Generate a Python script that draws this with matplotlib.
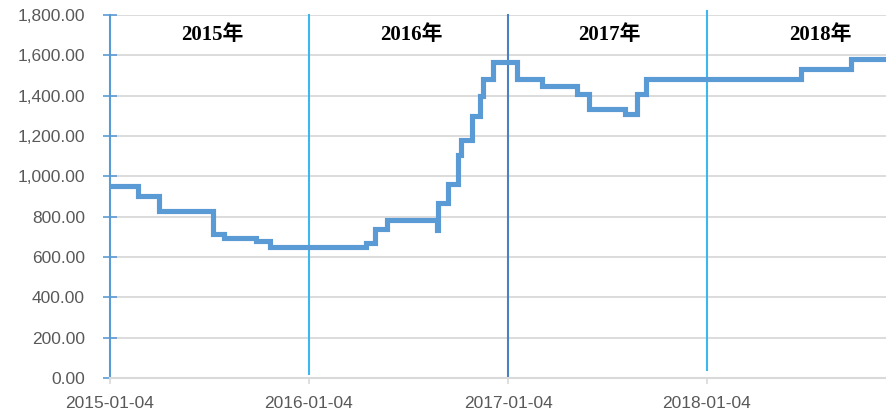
import pandas as pd
import matplotlib.pyplot as plt
import matplotlib.dates as mdates
from matplotlib.ticker import FuncFormatter, MultipleLocator

# step series (date of change, new level)
change_dates = ['2015-01-04', '2015-02-24', '2015-04-04', '2015-07-12', '2015-08-01',
                '2015-09-29', '2015-10-24', '2016-04-19', '2016-05-04', '2016-05-26',
                '2016-08-26', '2016-08-29', '2016-09-15', '2016-10-05', '2016-10-10',
                '2016-10-29', '2016-11-13', '2016-11-19', '2016-12-08', '2017-01-21',
                '2017-03-08', '2017-05-11', '2017-06-01', '2017-08-06', '2017-08-28',
                '2017-09-15', '2018-06-26', '2018-09-26', '2018-12-02']
levels = [950, 900, 830, 715, 695,
          680, 650, 670, 740, 785,
          735, 870, 960, 1105, 1180,
          1300, 1400, 1485, 1565, 1485,
          1450, 1410, 1335, 1310, 1410,
          1485, 1530, 1580, 1580]

tick_dates = ['2015-01-04', '2016-01-04', '2017-01-04', '2018-01-04']
year_labels = ['2015年', '2016年', '2017年', '2018年']
year_label_dates = ['2015-07-10', '2016-07-10', '2017-07-10', '2018-08-01']
divider_dates = ['2016-01-04', '2017-01-04', '2018-01-04']
divider_colors = ['#3DB8EE', '#4A80C4', '#3DB8EE']
divider_spans = [(20, 1800), (5, 1800), (40, 1820)]

df = pd.DataFrame({'date': pd.to_datetime(change_dates), 'value': levels})

fig = plt.figure(figsize=(8.87, 4.19), dpi=100)
ax = fig.add_axes([110 / 887, 41 / 419, 777 / 887, 363 / 419])

ax.plot(df['date'], df['value'], drawstyle='steps-post', color='#5B9BD5',
        linewidth=3.7, solid_joinstyle='miter', zorder=3)

for d, c, (y0, y1) in zip(divider_dates, divider_colors, divider_spans):
    dd = pd.Timestamp(d)
    ax.plot([dd, dd], [y0, y1], color=c, linewidth=1.5, clip_on=False, zorder=2)

for lab, d in zip(year_labels, year_label_dates):
    ax.text(pd.Timestamp(d), 1700, lab, ha='center', va='center', fontsize=15,
            fontweight='bold', family=['Liberation Serif', 'Noto Sans CJK SC'],
            color='black')

ax.set_xlim(pd.Timestamp('2015-01-04'), pd.Timestamp('2018-12-01'))
ax.set_ylim(0, 1800)

ax.set_xticks(pd.to_datetime(tick_dates))
ax.xaxis.set_major_formatter(mdates.DateFormatter('%Y-%m-%d'))
ax.yaxis.set_major_locator(MultipleLocator(200))
ax.yaxis.set_major_formatter(FuncFormatter(lambda v, p: f'{v:,.2f}'))

ax.grid(axis='y', color='#D9D9D9', linewidth=1.3)
ax.set_axisbelow(True)

for s in ['top', 'right']:
    ax.spines[s].set_visible(False)
ax.spines['left'].set_color('#5B9BD5')
ax.spines['left'].set_linewidth(1.5)
ax.spines['bottom'].set_color('#D9D9D9')
ax.spines['bottom'].set_linewidth(1.5)

ax.tick_params(axis='y', direction='inout', length=10, width=1.2, color='#5B9BD5',
               labelsize=12.5, labelcolor='#595959', pad=13)
ax.tick_params(axis='x', direction='out', length=4, width=1.2, color='#D9D9D9',
               labelsize=12.5, labelcolor='#595959', pad=9)
for lbl in ax.get_xticklabels() + ax.get_yticklabels():
    lbl.set_family('Liberation Sans')

plt.savefig('out.png', dpi=100)
